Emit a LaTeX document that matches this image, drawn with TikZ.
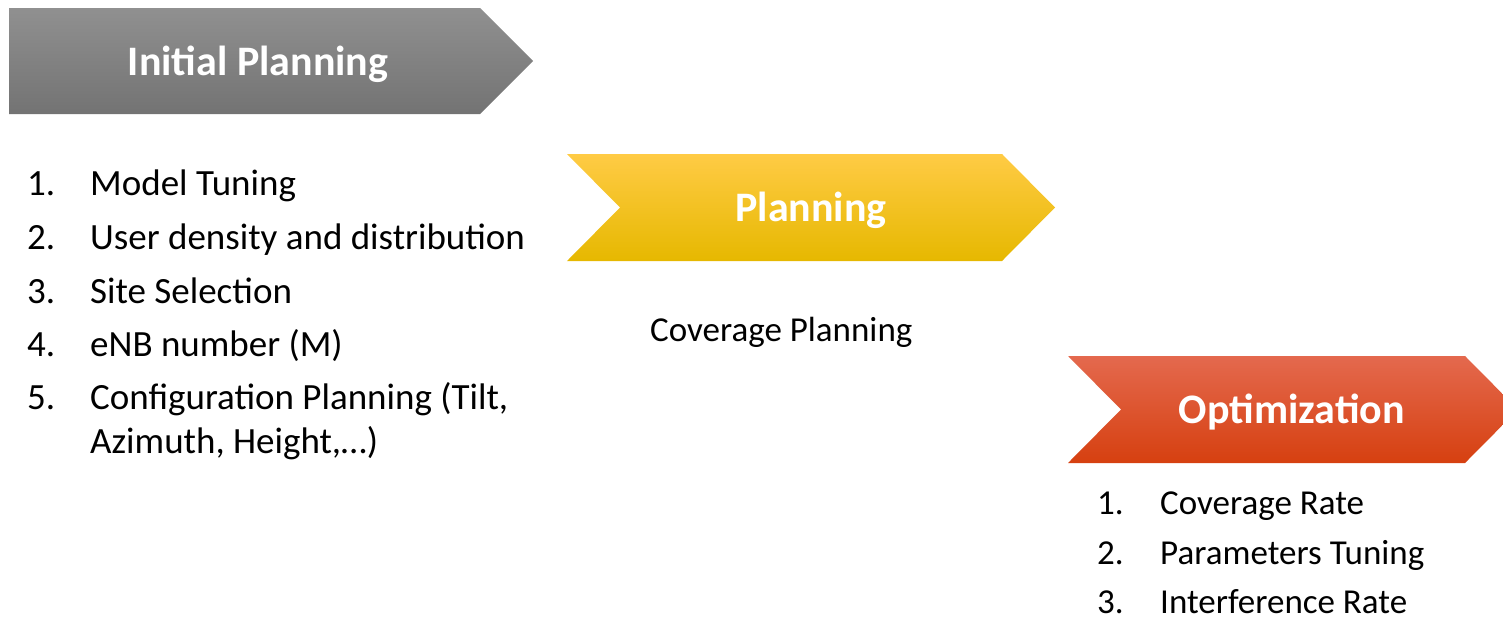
\documentclass[tikz,border=0pt]{standalone}
\usepackage{fontspec}
\setmainfont{Carlito}
\usetikzlibrary{positioning}
\definecolor{greytop}{HTML}{909090}
\definecolor{greybot}{HTML}{737373}
\definecolor{yeltop}{HTML}{FFCB45}
\definecolor{yelmid}{HTML}{FFC800}
\definecolor{yelbot}{HTML}{E6B800}
\definecolor{oratop}{HTML}{E4694E}
\definecolor{oramid}{HTML}{E54A1D}
\definecolor{orabot}{HTML}{D64010}
\tikzstyle{phase}   = [font=\bfseries\fontsize{42}{50}\selectfont, text=white, anchor=base, inner sep=0pt]
\tikzstyle{num}     = [font=\fontsize{37}{44}\selectfont, anchor=base west, inner sep=0pt]
\tikzstyle{item}    = [font=\fontsize{37}{44}\selectfont, anchor=base west, inner sep=0pt]
\tikzstyle{small}   = [font=\fontsize{35}{42}\selectfont, anchor=base west, inner sep=0pt]

\begin{document}
\begin{tikzpicture}[x=1pt,y=-1pt]

    \useasboundingbox (0,0) rectangle (1503,619);
    \clip (0,0) rectangle (1503,619);

    % arrows
    \path[top color=greytop, bottom color=greybot] (9,8) -- (480,8) -- (533,61) -- (480,114) -- (9,114) -- cycle;
    \path[top color=yeltop, middle color=yelmid, bottom color=yelbot] (567,154) -- (1002,154) -- (1055,207.5) -- (1002,261) -- (567,261) -- (620,207.5) -- cycle;
    \path[top color=oratop, middle color=oramid, bottom color=orabot] (1068,356) -- (1465,356) -- (1518,409.5) -- (1465,463) -- (1068,463) -- (1121,409.5) -- cycle;

    \node[phase] (Init)  at (258,75)  {Initial Planning};
    \node[phase] (Plan)  at (811,221) {Planning};
    \node[phase] (Optim) at (1292,423) {Optimization};

    % initial planning steps
    \node[num]  (N1) at (27,195) {1.};
    \node[num]  (N2) at (27,249) {2.};
    \node[num]  (N3) at (27,303) {3.};
    \node[num]  (N4) at (27,356) {4.};
    \node[num]  (N5) at (27,409) {5.};
    \node[item] (T1) at (90,195) {Model Tuning};
    \node[item] (T2) at (90,249) {User density and distribution};
    \node[item] (T3) at (90,303) {Site Selection};
    \node[item] (T4) at (90,356) {eNB number (M)};
    \node[item] (T5) at (90,409) {Configuration Planning (Tilt,};
    \node[item] (T5b) at (90,453) {Azimuth, Height,…)};

    % planning
    \node[small] (Cov) at (650,341) {Coverage Planning};

    % optimization steps
    \node[small] (M1) at (1097,514) {1.};
    \node[small] (M2) at (1097,564) {2.};
    \node[small] (M3) at (1097,613) {3.};
    \node[small] (R1) at (1160,514) {Coverage Rate};
    \node[small] (R2) at (1160,564) {Parameters Tuning};
    \node[small] (R3) at (1160,613) {Interference Rate};

\end{tikzpicture}
\end{document}
